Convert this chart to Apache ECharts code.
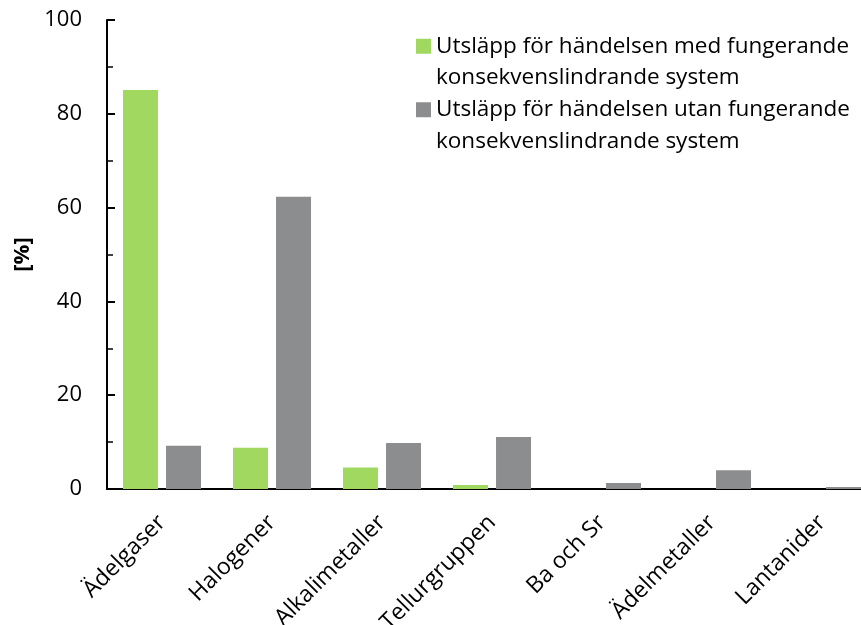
<!DOCTYPE html>
<html>
<head>
<meta charset="utf-8">
<script src="https://cdn.jsdelivr.net/npm/echarts@6/dist/echarts.min.js"></script>
<style>
  html, body { margin: 0; padding: 0; background: #fff; }
  #chart { width: 861px; height: 625px; }
</style>
</head>
<body>
<div id="chart"></div>
<script>
// kategorier och värden
const categories = ['Ädelgaser', 'Halogener', 'Alkalimetaller', 'Tellurgruppen', 'Ba och Sr', 'Ädelmetaller', 'Lantanider']
const medSystem = [85.1, 8.8, 4.6, 0.85, 0, 0, 0]
const utanSystem = [9.2, 62.3, 9.8, 11.1, 1.3, 4.0, 0.4]
const seriesNames = [
    'Utsläpp för händelsen med fungerande\nkonsekvenslindrande system',
    'Utsläpp för händelsen utan fungerande\nkonsekvenslindrande system'
]
const colors = ['#a0d860', '#8c8d8e']

const font = '"Open Sans", "Noto Sans", sans-serif'

let chart = echarts.init(document.getElementById('chart'), null, { renderer: 'canvas' })

let option = {
    animation: false,
    textStyle: { fontFamily: font },
    grid: {
        left: 107,
        right: -16,
        top: 20,
        bottom: 136,
        containLabel: false,
        outerBoundsMode: 'none'
    },
    legend: {
        orient: 'vertical',
        left: 411,
        top: -6,
        itemWidth: 15,
        itemHeight: 15,
        itemGap: -31,
        icon: 'rect',
        // tom rad först så att ikonen hamnar vid första textraden
        formatter: function (name) {
            return '\n' + name
        },
        textStyle: {
            fontSize: 22.5,
            lineHeight: 31.5,
            color: '#000',
            fontFamily: font
        },
        data: seriesNames
    },
    xAxis: {
        type: 'category',
        data: categories,
        axisLine: { lineStyle: { color: '#000', width: 2 } },
        axisTick: { show: false },
        axisLabel: {
            rotate: 45,
            interval: 0,
            margin: 30,
            fontSize: 23,
            color: '#000',
            fontFamily: font
        }
    },
    yAxis: {
        type: 'value',
        min: 0,
        max: 100,
        interval: 20,
        name: '[%]',
        nameLocation: 'middle',
        nameGap: 73,
        nameRotate: 90,
        nameTextStyle: { fontSize: 22, fontWeight: 'bold', color: '#000', fontFamily: font },
        splitLine: { show: false },
        axisLine: { show: true, lineStyle: { color: '#000', width: 2 } },
        axisTick: { show: true, inside: true, length: 8, lineStyle: { color: '#000', width: 2 } },
        minorTick: { show: true, splitNumber: 2, length: 6, lineStyle: { color: '#000', width: 1.5 } },
        axisLabel: { fontSize: 22, color: '#000', margin: 25, fontFamily: font }
    },
    series: [
        {
            name: seriesNames[0],
            type: 'bar',
            data: medSystem,
            barWidth: 35,
            barGap: '23%',
            itemStyle: { color: colors[0] }
        },
        {
            name: seriesNames[1],
            type: 'bar',
            data: utanSystem,
            barWidth: 35,
            barGap: '23%',
            itemStyle: { color: colors[1] }
        }
    ]
}

chart.setOption(option)
</script>
</body>
</html>
